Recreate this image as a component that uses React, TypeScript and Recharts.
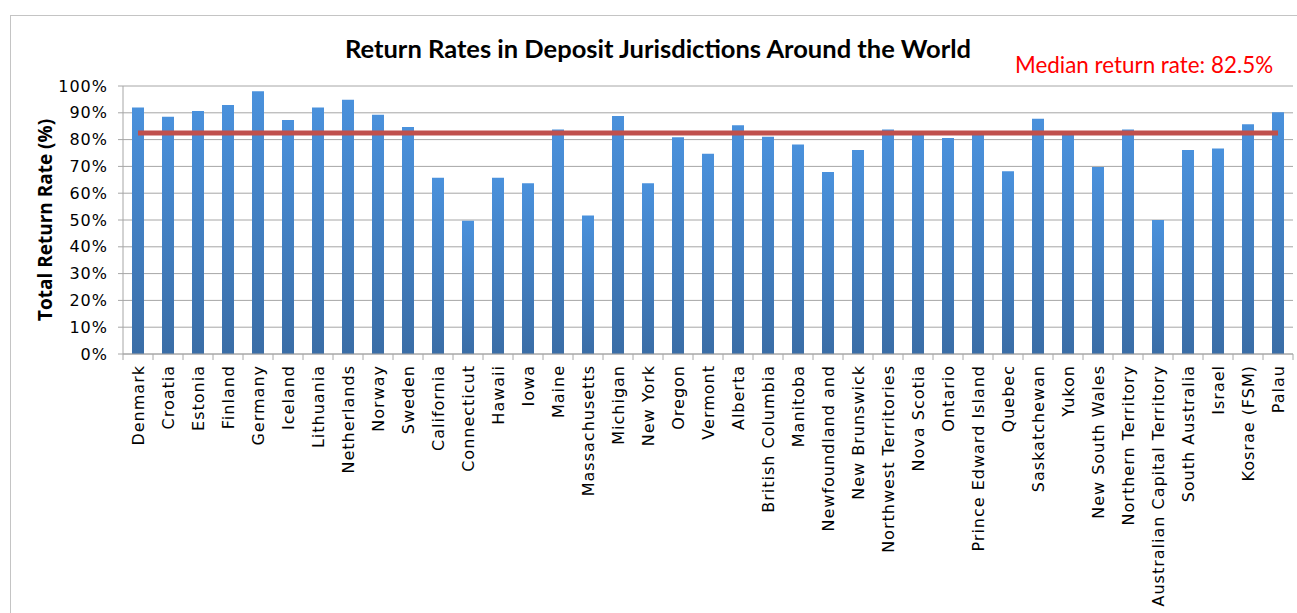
import { Bar, CartesianGrid, ComposedChart, Label, Line, XAxis, YAxis } from 'recharts'

const JURISDICTIONS = [
  'Denmark', 'Croatia', 'Estonia', 'Finland', 'Germany', 'Iceland', 'Lithuania', 'Netherlands',
  'Norway', 'Sweden', 'California', 'Connecticut', 'Hawaii', 'Iowa', 'Maine', 'Massachusetts',
  'Michigan', 'New York', 'Oregon', 'Vermont', 'Alberta', 'British Columbia', 'Manitoba',
  'Newfoundland and', 'New Brunswick', 'Northwest Territories', 'Nova Scotia', 'Ontario',
  'Prince Edward Island', 'Quebec', 'Saskatchewan', 'Yukon', 'New South Wales',
  'Northern Territory', 'Australian Capital Territory', 'South Australia', 'Israel',
  'Kosrae (FSM)', 'Palau',
]

const RETURN_RATES = [
  92, 88.5, 90.7, 92.9, 98, 87.3, 92, 94.9, 89.3, 84.7, 65.8, 49.7, 65.8, 63.7, 83.8, 51.7,
  88.8, 63.7, 80.9, 74.7, 85.4, 81.1, 78.2, 67.9, 76.1, 83.8, 82.5, 80.6, 82, 68.2, 87.8,
  82, 69.8, 83.8, 50, 76.1, 76.7, 85.7, 90.2,
]

const MEDIAN = 82.5
const Y_TICKS = [0, 10, 20, 30, 40, 50, 60, 70, 80, 90, 100]

const data = JURISDICTIONS.map((name, i) => ({ name, rate: RETURN_RATES[i], median: MEDIAN }))

const TICK_FONT = '"DejaVu Sans", sans-serif'
const GRID = '#a6a6a6'
const BAND = 30

function CategoryTick({ x, y, payload, index }: any) {
  const last = index === JURISDICTIONS.length - 1
  return (
    <g transform={`translate(${x},${y})`}>
      <line x1={-BAND / 2} y1={0} x2={-BAND / 2} y2={6} stroke={GRID} />
      {last && <line x1={BAND / 2} y1={0} x2={BAND / 2} y2={6} stroke={GRID} />}
      <text
        x={-11}
        y={0}
        dy="0.36em"
        transform="rotate(-90)"
        textAnchor="end"
        fontFamily={TICK_FONT}
        fontSize={16}
        letterSpacing={1}
        fill="#000"
      >
        {payload.value}
      </text>
    </g>
  )
}

export default function App() {
  return (
    <div style={{ position: 'relative', width: 1297, height: 613, background: '#fff', overflow: 'hidden' }}>
      <style>{'body{margin:0}'}</style>
      {/* chart frame */}
      <div
        style={{
          position: 'absolute', left: 10, top: 15, width: 1400, height: 700,
          border: '1px solid #c4c4c4', boxSizing: 'border-box',
        }}
      />
      <div style={{ position: 'absolute', left: 0, top: 0 }}>
        <ComposedChart width={1297} height={613} data={data} margin={{ top: 86, right: 4, bottom: 0, left: 0 }}>
          <defs>
            <linearGradient id="barGrad" x1="0" y1="0" x2="0" y2="1">
              <stop offset="0%" stopColor="#4a91dc" />
              <stop offset="100%" stopColor="#3a6da6" />
            </linearGradient>
          </defs>
          <CartesianGrid vertical={false} stroke={GRID} />
          <XAxis
            dataKey="name"
            interval={0}
            height={259}
            tickLine={false}
            tickSize={0}
            tickMargin={0}
            axisLine={{ stroke: GRID }}
            tick={<CategoryTick />}
          />
          <YAxis
            width={123}
            domain={[0, 100]}
            ticks={Y_TICKS}
            tickFormatter={(v) => `${v}%`}
            axisLine={{ stroke: GRID }}
            tickLine={{ stroke: GRID }}
            tickSize={5}
            tickMargin={10}
            tick={{ fill: '#000', fontSize: 16, fontFamily: TICK_FONT, letterSpacing: 1 }}
          >
            <Label
              value="Total Return Rate (%)"
              angle={-90}
              position="insideLeft"
              offset={0}
              dx={45}
              style={{ textAnchor: 'middle', fontFamily: '"Open Sans", sans-serif', fontWeight: 700, fontSize: 19, fill: '#000' }}
            />
          </YAxis>
          <Bar dataKey="rate" fill="url(#barGrad)" barSize={12} isAnimationActive={false} />
          <Line
            dataKey="median"
            stroke="#c0504d"
            strokeWidth={5}
            dot={false}
            activeDot={false}
            isAnimationActive={false}
          />
        </ComposedChart>
      </div>
      <svg width={1297} height={100} style={{ position: 'absolute', left: 0, top: 0 }}>
        <text x={658} y={58} textAnchor="middle" fontFamily="Lato, sans-serif" fontWeight={700} fontSize={25.5} fill="#000">
          Return Rates in Deposit Jurisdictions Around the World
        </text>
        <text x={1015} y={73} fontFamily="Lato, sans-serif" fontSize={22.4} fill="#ff0000">
          Median return rate: 82.5%
        </text>
      </svg>
    </div>
  )
}
